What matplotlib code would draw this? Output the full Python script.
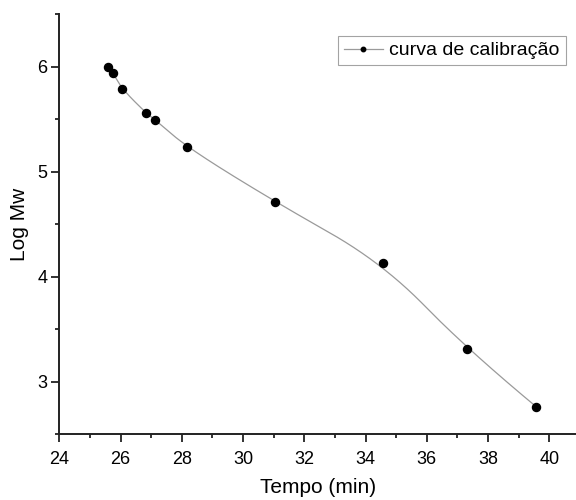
import numpy as np
import matplotlib
matplotlib.use("Agg")
import matplotlib.pyplot as plt
from matplotlib.ticker import MultipleLocator

plt.rcParams["font.family"] = ["Liberation Sans", "DejaVu Sans"]

# Calibration data: elution time (min) vs log of molecular weight
tempo = [25.58, 25.75, 26.04, 26.82, 27.14, 28.17, 31.05, 34.56, 37.30, 39.57]
log_mw = [6.00, 5.94, 5.79, 5.56, 5.49, 5.23, 4.71, 4.13, 3.31, 2.76]
x_ticks = [24, 26, 28, 30, 32, 34, 36, 38, 40]
y_ticks = [3, 4, 5, 6]


def bspline_curve(px, py, degree=2, samples=400):
    """Clamped uniform B-spline using the data points as control points."""
    P = np.column_stack([px, py])
    n = len(P)
    inner = np.arange(1, n - degree)
    knots = np.concatenate([np.zeros(degree + 1), inner,
                            np.full(degree + 1, n - degree)]).astype(float)
    t = np.linspace(0, n - degree, samples)
    t[-1] -= 1e-9

    def basis(i, k, t):
        if k == 0:
            return np.where((knots[i] <= t) & (t < knots[i + 1]), 1.0, 0.0)
        out = np.zeros_like(t)
        d1 = knots[i + k] - knots[i]
        d2 = knots[i + k + 1] - knots[i + 1]
        if d1 > 0:
            out += (t - knots[i]) / d1 * basis(i, k - 1, t)
        if d2 > 0:
            out += (knots[i + k + 1] - t) / d2 * basis(i + 1, k - 1, t)
        return out

    B = np.array([basis(i, degree, t) for i in range(n)])
    curve = B.T @ P
    return curve[:, 0], curve[:, 1]


fig = plt.figure(figsize=(5.76, 5.0), dpi=100)
ax = fig.add_axes([0.103, 0.132, 0.897, 0.840])

cx, cy = bspline_curve(tempo, log_mw)
ax.plot(cx, cy, color="#9a9a9a", lw=0.9, zorder=2)
ax.plot(tempo, log_mw, "o", color="black", ms=5.8, zorder=3)

# legend proxy: gray line with a small dot
ax.plot([], [], color="#9a9a9a", lw=0.9, marker="o", ms=3.2,
        mfc="black", mec="black", label="curva de calibração")
leg = ax.legend(loc="upper right", bbox_to_anchor=(565.7 / 576, 464 / 500),
                bbox_transform=fig.transFigure, fontsize=14, frameon=True,
                fancybox=False, edgecolor="#8c8c8c", borderpad=0.3,
                borderaxespad=0, handlelength=2.0, handletextpad=0.35)
leg.get_frame().set_linewidth(0.8)

ax.set_xlim(24, 40.87)
ax.set_ylim(2.5, 6.5)
ax.set_xticks(x_ticks)
ax.set_yticks(y_ticks)
ax.xaxis.set_minor_locator(MultipleLocator(1))
ax.yaxis.set_minor_locator(MultipleLocator(0.5))

for s in ("top", "right"):
    ax.spines[s].set_visible(False)
for s in ("left", "bottom"):
    ax.spines[s].set_linewidth(1.4)
    ax.spines[s].set_color("#222222")

ax.tick_params(which="major", direction="out", length=5.5, width=1.3,
               labelsize=13, color="#222222")
ax.tick_params(axis="x", which="major", pad=7)
ax.tick_params(axis="y", which="major", pad=3)
ax.tick_params(which="minor", direction="out", length=3.2, width=1.3,
               color="#222222")

ax.set_xlabel("Tempo (min)", fontsize=15, labelpad=7)
ax.set_ylabel("Log Mw", fontsize=15, labelpad=6)

fig.savefig("out.png", dpi=100)
